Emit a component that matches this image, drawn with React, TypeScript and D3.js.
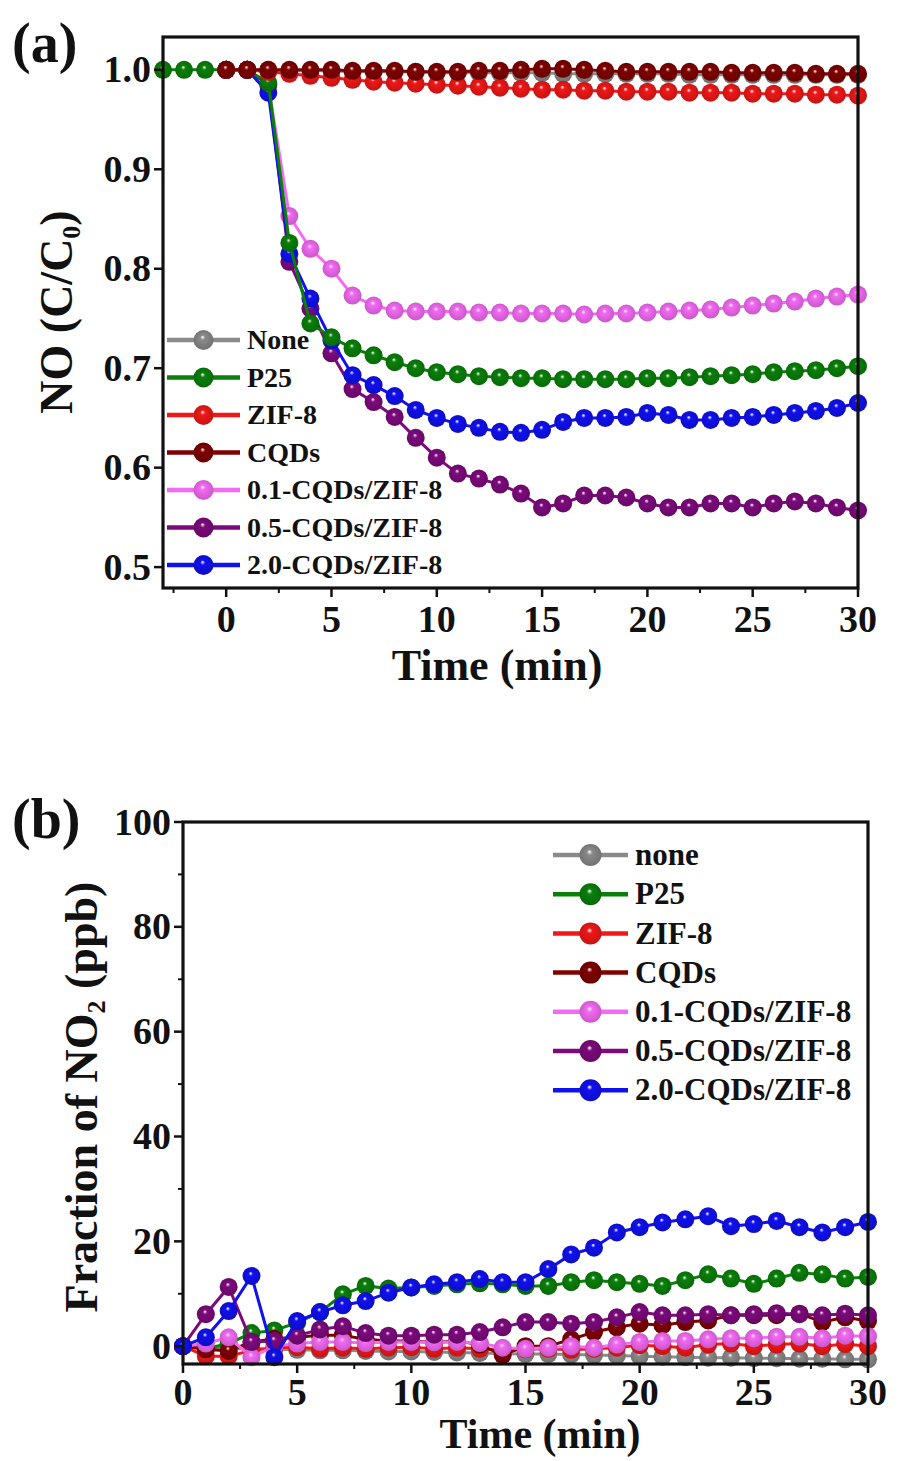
import React from 'react';
import * as d3 from 'd3';

// ---------- data ----------
const legendA = ['None', 'P25', 'ZIF-8', 'CQDs', '0.1-CQDs/ZIF-8', '0.5-CQDs/ZIF-8', '2.0-CQDs/ZIF-8'];
const legendB = ['none', 'P25', 'ZIF-8', 'CQDs', '0.1-CQDs/ZIF-8', '0.5-CQDs/ZIF-8', '2.0-CQDs/ZIF-8'];
const seriesColors = ['#8a8a8a', '#0a800a', '#f01818', '#800000', '#f46af4', '#7d0a7d', '#1010f0'];

const minutesLong = [-3, -2, -1, 0, 1, 2, 3, 4, 5, 6, 7, 8, 9, 10, 11, 12, 13, 14, 15, 16, 17, 18, 19, 20, 21, 22, 23, 24, 25, 26, 27, 28, 29, 30];
const minutes = [0, 1, 2, 3, 4, 5, 6, 7, 8, 9, 10, 11, 12, 13, 14, 15, 16, 17, 18, 19, 20, 21, 22, 23, 24, 25, 26, 27, 28, 29, 30];

// (a) NO C/C0
const noneA = [1.0, 1.0, 1.0, 0.999, 0.999, 0.999, 0.998, 0.998, 0.998, 0.998, 0.997, 0.997, 0.997, 0.997, 0.997, 0.997, 0.996, 0.996, 0.996, 0.996, 0.996, 0.996, 0.995, 0.995, 0.995, 0.995, 0.995, 0.995, 0.995, 0.995, 0.995];
const p25A = [1.0, 1.0, 1.0, 1.0, 1.0, 0.987, 0.826, 0.745, 0.731, 0.72, 0.713, 0.706, 0.7, 0.696, 0.694, 0.692, 0.691, 0.69, 0.69, 0.689, 0.689, 0.689, 0.689, 0.69, 0.69, 0.691, 0.692, 0.693, 0.694, 0.696, 0.697, 0.698, 0.7, 0.702];
const zif8A = [1.0, 1.0, 0.998, 0.996, 0.994, 0.992, 0.99, 0.988, 0.987, 0.986, 0.985, 0.984, 0.983, 0.982, 0.981, 0.98, 0.98, 0.979, 0.979, 0.978, 0.978, 0.978, 0.977, 0.977, 0.977, 0.976, 0.976, 0.976, 0.975, 0.975, 0.974];
const cqdsA = [1.0, 1.0, 1.0, 1.0, 1.0, 1.0, 0.999, 0.999, 0.999, 0.998, 0.998, 0.998, 0.999, 0.999, 1.0, 1.001, 1.001, 1.0, 0.999, 0.998, 0.998, 0.998, 0.998, 0.998, 0.997, 0.997, 0.997, 0.997, 0.996, 0.996, 0.996];
const c01A = [1.0, 1.0, 0.985, 0.853, 0.82, 0.8, 0.773, 0.763, 0.758, 0.757, 0.757, 0.757, 0.756, 0.756, 0.755, 0.755, 0.755, 0.754, 0.755, 0.755, 0.756, 0.757, 0.758, 0.759, 0.761, 0.763, 0.765, 0.767, 0.77, 0.772, 0.774];
const c05A = [1.0, 1.0, 0.985, 0.807, 0.76, 0.715, 0.679, 0.666, 0.651, 0.63, 0.61, 0.594, 0.589, 0.583, 0.574, 0.56, 0.564, 0.572, 0.572, 0.57, 0.564, 0.56, 0.56, 0.564, 0.564, 0.56, 0.564, 0.566, 0.564, 0.56, 0.557];
const c20A = [1.0, 1.0, 0.977, 0.815, 0.77, 0.728, 0.693, 0.683, 0.672, 0.658, 0.65, 0.644, 0.64, 0.636, 0.635, 0.638, 0.646, 0.65, 0.65, 0.651, 0.655, 0.653, 0.648, 0.648, 0.65, 0.651, 0.653, 0.655, 0.657, 0.66, 0.665];

// (b) NO2 ppb
const noneB = [0, -0.3, -0.5, -0.5, -0.6, -0.7, -0.8, -0.8, -0.9, -1.0, -1.0, -1.1, -1.2, -1.3, -1.4, -1.5, -1.5, -1.6, -1.7, -1.8, -1.9, -2.0, -2.1, -2.2, -2.2, -2.3, -2.3, -2.4, -2.4, -2.5, -2.5];
const p25B = [0, -0.5, 0.5, 2.5, 3.0, 4.5, 6.5, 9.9, 11.5, 11.0, 11.2, 11.5, 11.8, 12.0, 11.8, 11.5, 11.5, 12.2, 12.6, 12.2, 11.9, 11.5, 12.6, 13.7, 12.9, 11.9, 12.9, 14.0, 13.7, 12.9, 13.2];
const zif8B = [0, -1.9, -1.9, -0.8, -0.3, -0.2, -0.5, -0.3, -0.5, -0.3, -0.2, -0.5, -0.3, -0.5, -0.8, -0.6, -0.5, -0.7, -0.5, -0.3, 0.2, 0.0, -0.3, 0.3, 0.5, 0.0, 0.3, 0.5, 0.0, 0.4, 0.0];
const cqdsB = [0, -0.6, -0.9, 0.8, 1.4, 1.7, 2.1, 2.1, 1.3, 1.0, 1.0, 0.7, 1.0, 0.3, -1.7, 0.0, 0.0, 1.3, 2.7, 3.6, 4.3, 4.0, 4.6, 4.9, 5.9, 5.9, 5.9, 6.2, 4.6, 5.5, 4.8];
const c01B = [0, 0.5, 1.7, -2.1, 0.0, 0.5, 0.8, 0.8, 0.6, 0.8, 0.8, 0.7, 0.8, 0.6, -0.3, -0.5, -0.3, 0.0, -0.3, 0.3, 0.8, 1.0, 1.0, 1.3, 1.5, 1.5, 1.8, 1.8, 1.5, 2.0, 1.9];
const c05B = [0, 6.1, 11.3, 0.8, 1.0, 2.0, 3.2, 3.8, 2.5, 2.0, 2.0, 2.2, 2.2, 2.7, 3.6, 4.6, 4.6, 4.3, 4.6, 5.5, 6.5, 5.9, 5.9, 6.1, 5.9, 6.1, 6.3, 6.1, 5.9, 6.2, 5.9];
const c20B = [0, 1.7, 6.7, 13.4, -2.1, 4.8, 6.5, 7.8, 8.6, 10.2, 11.2, 11.8, 12.2, 12.8, 12.2, 12.2, 14.7, 17.5, 18.8, 21.7, 22.7, 23.6, 24.2, 24.8, 22.9, 23.3, 23.9, 22.7, 21.7, 22.7, 23.7];

// ticks
const xTicksMajor = [0, 5, 10, 15, 20, 25, 30];
const xTicksMinorA = [-2.5, 2.5, 7.5, 12.5, 17.5, 22.5, 27.5];
const xTicksMinorB = [2.5, 7.5, 12.5, 17.5, 22.5, 27.5];
const yTicksA = [0.5, 0.6, 0.7, 0.8, 0.9, 1.0];
const yTicksB = [0, 20, 40, 60, 80, 100];
const yTicksMinorB = [10, 30, 50, 70, 90];

const FONT = "'Liberation Serif','Times New Roman',Times,serif";

type Series = { name: string; color: number; t: number[]; v: number[] };

const seriesA: Series[] = [
  { name: legendA[0], color: 0, t: minutes, v: noneA },
  { name: legendA[4], color: 4, t: minutes, v: c01A },
  { name: legendA[5], color: 5, t: minutes, v: c05A },
  { name: legendA[6], color: 6, t: minutes, v: c20A },
  { name: legendA[1], color: 1, t: minutesLong, v: p25A },
  { name: legendA[2], color: 2, t: minutes, v: zif8A },
  { name: legendA[3], color: 3, t: minutes, v: cqdsA },
];
const seriesB: Series[] = [
  { name: legendB[0], color: 0, t: minutes, v: noneB },
  { name: legendB[1], color: 1, t: minutes, v: p25B },
  { name: legendB[2], color: 2, t: minutes, v: zif8B },
  { name: legendB[3], color: 3, t: minutes, v: cqdsB },
  { name: legendB[4], color: 4, t: minutes, v: c01B },
  { name: legendB[5], color: 5, t: minutes, v: c05B },
  { name: legendB[6], color: 6, t: minutes, v: c20B },
];

type PanelProps = {
  x: d3.ScaleLinear<number, number>;
  y: d3.ScaleLinear<number, number>;
  series: Series[];
  xMinor: number[];
  yTicks: number[];
  yMinor: number[];
  yFmt: (v: number) => string;
  tickFont: number;
  xLabelY: number;
  titleX: number;
  titleY: number;
  titleFont: number;
  yTitle: React.ReactNode;
  yTitleX: number;
  yTitleY: number;
  letter: string;
  letterY: number;
  legend: string[];
  legX: number;
  legY: number;
  legStep: number;
  legFont: number;
  legR: number;
  legLen: number;
  r: number;
};

function Panel(p: PanelProps) {
  const [x0, x1] = p.x.range();
  const [yb, yt] = p.y.range();
  const line = d3
    .line<[number, number]>()
    .x((d) => p.x(d[0]))
    .y((d) => p.y(d[1]));
  return (
    <g fontFamily={FONT} fontWeight="bold" fill="#111">
      {/* data */}
      {p.series.map((s, i) => {
        const pts: [number, number][] = s.t.map((t, k) => [t, s.v[k]]);
        return (
          <g key={i}>
            <path d={line(pts) || ''} fill="none" stroke={seriesColors[s.color]} strokeWidth={3} />
            {pts.map((d, k) => (
              <circle key={k} cx={p.x(d[0])} cy={p.y(d[1])} r={p.r} fill={`url(#ball${s.color})`} />
            ))}
          </g>
        );
      })}
      {/* frame */}
      <rect x={x0} y={yt} width={x1 - x0} height={yb - yt} fill="none" stroke="#111" strokeWidth={3.2} />
      {/* x ticks */}
      {xTicksMajor.map((t) => (
        <g key={'xt' + t}>
          <line x1={p.x(t)} x2={p.x(t)} y1={yb} y2={yb + 9} stroke="#111" strokeWidth={2.5} />
          <text x={p.x(t)} y={p.xLabelY} textAnchor="middle" fontSize={p.tickFont}>
            {t}
          </text>
        </g>
      ))}
      {p.xMinor.map((t) => (
        <line key={'xm' + t} x1={p.x(t)} x2={p.x(t)} y1={yb} y2={yb + 5} stroke="#111" strokeWidth={2} />
      ))}
      {/* y ticks */}
      {p.yTicks.map((t) => (
        <g key={'yt' + t}>
          <line x1={x0} x2={x0 - 9} y1={p.y(t)} y2={p.y(t)} stroke="#111" strokeWidth={2.5} />
          <text x={x0 - 12} y={p.y(t) + p.tickFont * 0.33} textAnchor="end" fontSize={p.tickFont}>
            {p.yFmt(t)}
          </text>
        </g>
      ))}
      {p.yMinor.map((t) => (
        <line key={'ym' + t} x1={x0} x2={x0 - 5} y1={p.y(t)} y2={p.y(t)} stroke="#111" strokeWidth={2} />
      ))}
      {/* titles */}
      <text x={p.titleX} y={p.titleY} textAnchor="middle" fontSize={p.titleFont}>
        Time (min)
      </text>
      <text transform={`translate(${p.yTitleX},${p.yTitleY}) rotate(-90)`} textAnchor="middle" fontSize={46}>
        {p.yTitle}
      </text>
      <text x={12} y={p.letterY} fontSize={56}>
        {p.letter}
      </text>
      {/* legend */}
      {p.legend.map((name, i) => {
        const cy = p.legY + i * p.legStep;
        return (
          <g key={'lg' + i}>
            <line x1={p.legX} x2={p.legX + p.legLen} y1={cy} y2={cy} stroke={seriesColors[i]} strokeWidth={4.5} />
            <circle cx={p.legX + p.legLen / 2} cy={cy} r={p.legR} fill={`url(#ball${i})`} />
            <text x={p.legX + p.legLen + 7} y={cy + p.legFont * 0.33} fontSize={p.legFont}>
              {name}
            </text>
          </g>
        );
      })}
    </g>
  );
}

export default function App() {
  const xA = d3.scaleLinear().domain([-3, 30]).range([163, 858]);
  const yA = d3.scaleLinear().domain([0.479, 1.033]).range([588, 37]);
  const xB = d3.scaleLinear().domain([0, 30]).range([183, 868]);
  const yB = d3.scaleLinear().domain([-3.4, 100]).range([1364, 822]);
  const fmtA = d3.format('.1f');
  const fmtB = d3.format('d');
  return (
    <svg width={899} height={1461} style={{ position: 'absolute', left: 0, top: 0, background: '#fff' }}>
      <defs>
        {seriesColors.map((c, i) => (
          <radialGradient key={i} id={`ball${i}`} cx="0.5" cy="0.5" r="0.55" fx="0.45" fy="0.35">
            <stop offset="0" stopColor="#ffffff" stopOpacity={0.85} />
            <stop offset="0.22" stopColor={c} />
            <stop offset="1" stopColor={d3.color(c)!.darker(0.6).toString()} />
          </radialGradient>
        ))}
      </defs>
      <rect width={899} height={1461} fill="#fff" />
      <Panel
        x={xA}
        y={yA}
        series={seriesA}
        xMinor={xTicksMinorA}
        yTicks={yTicksA}
        yMinor={[]}
        yFmt={fmtA}
        tickFont={38}
        xLabelY={632}
        titleX={497}
        titleY={680}
        titleFont={44}
        yTitle={
          <>
            NO (C/C<tspan fontSize={26} dy={8}>0</tspan>
            <tspan dy={-8}>)</tspan>
          </>
        }
        yTitleX={72}
        yTitleY={312}
        letter="(a)"
        letterY={62}
        legend={legendA}
        legX={167}
        legY={340}
        legStep={37.5}
        legFont={28}
        legR={10}
        legLen={73}
        r={9}
      />
      <Panel
        x={xB}
        y={yB}
        series={seriesB}
        xMinor={xTicksMinorB}
        yTicks={yTicksB}
        yMinor={yTicksMinorB}
        yFmt={fmtB}
        tickFont={38}
        xLabelY={1405}
        titleX={540}
        titleY={1448}
        titleFont={42}
        yTitle={
          <>
            Fraction of NO<tspan fontSize={26} dy={8}>2</tspan>
            <tspan dy={-8}> (ppb)</tspan>
          </>
        }
        yTitleX={97}
        yTitleY={1097}
        letter="(b)"
        letterY={838}
        legend={legendB}
        legX={553}
        legY={855}
        legStep={39.2}
        legFont={31}
        legR={11}
        legLen={75}
        r={9}
      />
    </svg>
  );
}
